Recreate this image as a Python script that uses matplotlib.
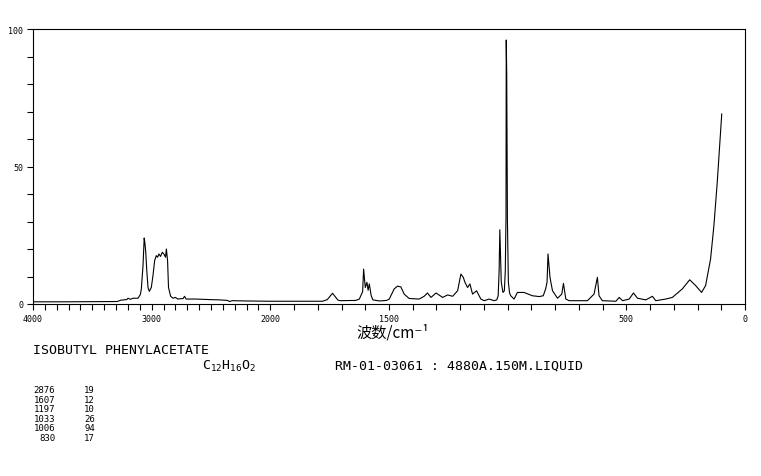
import numpy as np
import matplotlib
matplotlib.use("Agg")
from matplotlib import pyplot as plt
from matplotlib.ticker import FixedLocator, MultipleLocator

# Raman spectrum: wavenumber (cm-1) and intensity
wavenumber = [4000, 3700, 3400, 3290, 3260, 3210, 3199, 3180, 3157, 3115, 3095, 3087,
              3073, 3063, 3058, 3050, 3042, 3031, 3020, 3003, 2989, 2975, 2961, 2950,
              2939, 2925, 2911, 2897, 2883, 2876, 2866, 2858, 2840, 2820, 2800, 2780,
              2735, 2723, 2710, 2624, 2513, 2429, 2360, 2345, 2320, 2200, 2000, 1780,
              1760, 1745, 1738, 1728, 1715, 1705, 1640, 1625, 1611, 1607, 1600, 1593,
              1588, 1583, 1575, 1568, 1540, 1510, 1499, 1478, 1464, 1450, 1436, 1415,
              1373, 1352, 1338, 1323, 1302, 1274, 1253, 1232, 1211, 1197, 1187, 1180,
              1169, 1159, 1148, 1131, 1113, 1099, 1078, 1057, 1046, 1040, 1036, 1033,
              1031, 1027, 1020, 1014, 1010, 1007, 1006, 1004, 1001, 997, 992, 987,
              973, 959, 945, 931, 896, 867, 850, 840, 834, 830, 822, 818, 811, 790,
              772, 765, 755, 741, 664, 636, 622, 615, 601, 544, 530, 516, 488, 470,
              453, 418, 390, 376, 334, 306, 264, 233, 208, 183, 166, 145, 131, 117,
              107, 98]
intensity = [0.8, 0.8, 0.9, 0.9, 1.4, 1.6, 2.1, 1.7, 2.1, 2.1, 3.5, 5.5,
             13.9, 24.0, 22.5, 19.0, 12.7, 6.0, 4.6, 6.0, 10.3, 15.8, 17.6, 17.0,
             18.2, 17.3, 18.8, 18.2, 17.0, 20.0, 15.8, 6.0, 2.8, 2.1, 2.4, 1.8,
             2.0, 2.8, 1.8, 1.8, 1.6, 1.5, 1.3, 0.9, 1.2, 1.1, 1.0, 1.0,
             1.6, 3.2, 3.9, 2.8, 1.4, 1.2, 1.3, 1.8, 4.5, 12.7, 6.0, 7.9,
             5.0, 7.3, 3.0, 1.5, 1.1, 1.3, 1.8, 5.5, 6.5, 6.2, 3.6, 2.0,
             1.8, 2.8, 4.0, 2.4, 4.0, 2.4, 3.3, 2.8, 4.8, 10.9, 9.7, 7.9,
             6.0, 7.3, 3.6, 4.8, 1.8, 1.2, 1.8, 1.2, 1.5, 3.0, 12.0, 27.0,
             21.0, 8.0, 4.2, 4.8, 12.0, 32.0, 96.0, 84.0, 30.0, 7.9, 4.0, 3.0,
             1.8, 4.2, 4.2, 4.2, 3.0, 2.7, 3.0, 5.5, 8.0, 18.2, 10.0, 7.9, 4.8, 2.1,
             3.6, 7.5, 1.8, 1.2, 1.2, 3.6, 9.7, 3.0, 1.2, 1.0, 2.4, 1.2, 1.8, 4.0,
             2.1, 1.5, 2.8, 1.2, 1.8, 2.4, 5.5, 8.8, 6.7, 4.2, 6.7, 16.4, 28.5, 44.2,
             57.6, 69.1]

x_ticks = [4000, 3000, 2000, 1500, 500, 0]
y_ticks = [0, 50, 100]

peak_pos = ["2876", "1607", "1197", "1033", "1006", "830"]
peak_int = ["19", "12", "10", "26", "94", "17"]

compound = "ISOBUTYL PHENYLACETATE"
formula = r"C$_{\mathtt{12}}$H$_{\mathtt{16}}$O$_{\mathtt{2}}$"
sample = "RM-01-03061 : 4880A.150M.LIQUID"


# above 2000 cm-1 the axis is compressed by half
def fwd(w):
    w = np.asarray(w, dtype=float)
    return np.where(w > 2000, 2000 + (w - 2000) / 2, w)


def inv(u):
    u = np.asarray(u, dtype=float)
    return np.where(u > 2000, 2000 + 2 * (u - 2000), u)


W, H = 761, 477
fig = plt.figure(figsize=(W / 100, H / 100), dpi=100)
ax = fig.add_axes([33 / W, 1 - 305 / H, 712 / W, 275 / H])

ax.plot(wavenumber, intensity, color="black", linewidth=0.8)

ax.set_xscale("function", functions=(fwd, inv))
ax.set_xlim(4000, 0)
ax.set_ylim(0, 100)

ax.xaxis.set_major_locator(FixedLocator(x_ticks))
ax.xaxis.set_minor_locator(FixedLocator(np.arange(0, 4001, 100)))
ax.set_xticklabels([str(t) for t in x_ticks])
ax.yaxis.set_major_locator(FixedLocator(y_ticks))
ax.yaxis.set_minor_locator(MultipleLocator(10))
ax.set_yticklabels([str(t) for t in y_ticks])

ax.tick_params(which="both", direction="out", length=4, width=0.8,
               labelsize=6, pad=3)
for lab in ax.get_xticklabels() + ax.get_yticklabels():
    lab.set_family("DejaVu Sans Mono")
for s in ax.spines.values():
    s.set_linewidth(0.8)

fig.text(393 / W, 1 - 333 / H, "波数/cm⁻¹", ha="center", va="center",
         fontsize=11, family=["Noto Sans CJK SC", "DejaVu Sans"])

mono = "DejaVu Sans Mono"
fig.text(33 / W, 1 - 351 / H, compound, ha="left", va="center",
         fontsize=9.5, family=mono)
fig.text(202 / W, 1 - 366 / H, formula, ha="left", va="center",
         fontsize=9.5, family=mono)
fig.text(335 / W, 1 - 366 / H, sample, ha="left", va="center",
         fontsize=9.5, family=mono)

for i in range(len(peak_pos)):
    y = 1 - (391 + i * 9.5) / H
    fig.text(55 / W, y, peak_pos[i], ha="right", va="center", fontsize=6.5, family=mono)
    fig.text(95 / W, y, peak_int[i], ha="right", va="center", fontsize=6.5, family=mono)

fig.savefig("out.png", dpi=100)
